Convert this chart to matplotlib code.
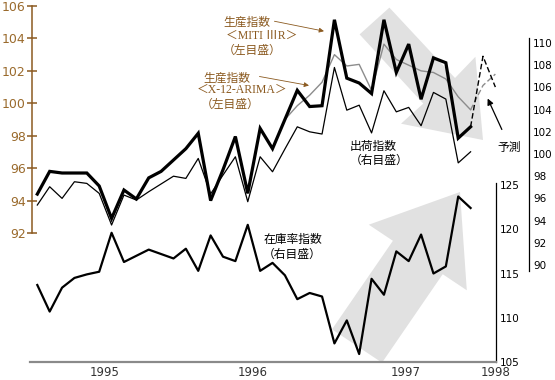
import numpy as np
import matplotlib
matplotlib.use('Agg')
import matplotlib.pyplot as plt
from matplotlib.patches import Polygon

W, H = 555, 380
X0, DX = 37.3, 12.38   # pixel x of the first month, pixels per month

months = np.arange(36)
fc_months = [35, 36, 37]

# production index, MITI IIIR (left scale)
miti = [94.4, 95.8, 95.7, 95.7, 95.7, 94.9, 92.9, 94.65, 94.1, 95.4, 95.8, 96.5,
        97.2, 98.15, 94.0, 95.9, 97.95, 94.45, 98.45, 97.2, 99.0, 100.8, 99.8, 99.85,
        105.15, 101.55, 101.25, 100.6, 105.15, 101.9, 103.65, 100.25, 102.8, 102.5, 97.85, 98.55]
miti_fc = [98.55, 102.9, 101.0]

# production index, X-12-ARIMA (left scale)
arima = [94.4, 95.8, 95.7, 95.7, 95.7, 94.9, 92.9, 94.65, 94.1, 95.4, 95.8, 96.5,
         97.2, 98.15, 94.0, 95.9, 97.95, 94.45, 98.45, 97.2, 99.0, 99.85, 100.5, 101.3,
         103.0, 102.3, 102.4, 100.8, 103.65, 102.7, 102.35, 102.0, 101.9, 101.5, 100.4, 99.6]
arima_fc = [99.6, 101.1, 101.8]

# shipments index (right scale 1)
shipments = [95.4, 97.05, 96.0, 97.5, 97.35, 96.45, 93.6, 96.3, 95.85, 96.6, 97.3, 98.0,
             97.8, 99.6, 96.4, 98.1, 99.75, 95.7, 99.75, 98.4, 100.45, 102.45, 102.0, 101.8,
             107.8, 103.95, 104.4, 101.9, 105.7, 103.8, 104.2, 102.55, 105.55, 104.95, 99.2, 100.2]

# inventory ratio index (right scale 2)
inventory = [113.7, 110.7, 113.4, 114.5, 114.9, 115.2, 119.6, 116.3, 117.0, 117.7, 117.2, 116.7,
             117.8, 115.3, 119.3, 116.9, 116.4, 120.5, 115.3, 116.2, 114.8, 112.1, 112.8, 112.4,
             107.1, 109.7, 105.9, 114.4, 112.6, 117.5, 116.4, 119.4, 115.0, 115.8, 123.7, 122.4]

years = ['1995', '1996', '1997', '1998']
year_pos = [5.41, 17.42, 29.72, 37.05]

brown = '#8B5A20'
jp = ['Noto Sans CJK JP', 'DejaVu Sans']
plt.rcParams['font.family'] = ['DejaVu Sans', 'Noto Sans CJK JP']


def frac(left, top, right, bottom):
    return [left / W, 1 - bottom / H, (right - left) / W, (bottom - top) / H]


def xl(left, right):
    return ((left - X0) / DX, (right - X0) / DX)


def fp(x, y):
    return (x / W, 1 - y / H)


fig = plt.figure(figsize=(5.55, 3.8), dpi=100)

ax_l = fig.add_axes(frac(32, 6, 496, 233))
ax_r1 = fig.add_axes(frac(32, 37.5, 529, 270.5))
ax_r2 = fig.add_axes(frac(30, 183, 496, 362))

for ax in (ax_l, ax_r1, ax_r2):
    ax.patch.set_visible(False)
    for s in ax.spines.values():
        s.set_visible(False)
    ax.set_xticks([])

# left scale
ax_l.set_xlim(*xl(32, 496))
ax_l.set_ylim(92, 106)
ax_l.spines['left'].set_visible(True)
ax_l.spines['left'].set_color(brown)
ax_l.spines['left'].set_linewidth(1.1)
ax_l.set_yticks(np.arange(92, 107, 2))
ax_l.tick_params(axis='y', direction='inout', length=7, width=1.1, color=brown,
                 labelcolor='#9a6a2c', labelsize=9, pad=1)

# shaded trend arrows
down_arrow = [(359.6, 34.4), (389.4, 7.6), (455, 78), (475.4, 56.8), (483, 140),
              (401, 123.7), (423.3, 103.6)]
up_arrow = [(332, 329.3), (382, 362.7), (442.7, 274.2), (466.8, 290.3), (460, 192),
            (368.8, 224.7), (392.9, 240.8)]
for pts in (down_arrow, up_arrow):
    ax_l.add_patch(Polygon([fp(x, y) for x, y in pts], closed=True, transform=fig.transFigure,
                           facecolor='#e1e1e1', edgecolor='none', zorder=0, clip_on=False))

ax_l.plot(months, arima, color='#8c8c8c', lw=1.0, zorder=2)
ax_l.plot(months, miti, color='black', lw=2.3, zorder=3, solid_joinstyle='miter')
ax_l.plot(fc_months, arima_fc, color='#8c8c8c', lw=1.0, ls=(0, (4, 2)), zorder=2, clip_on=False)
ax_l.plot(fc_months, miti_fc, color='black', lw=1.0, ls=(0, (4, 2)), zorder=3, clip_on=False)

# shipments scale
ax_r1.set_xlim(*xl(32, 529))
ax_r1.set_ylim(89.5, 110.5)
ax_r1.spines['right'].set_visible(True)
ax_r1.spines['right'].set_linewidth(0.9)
ax_r1.yaxis.tick_right()
ax_r1.set_yticks(np.arange(90, 111, 2))
ax_r1.tick_params(axis='y', length=0, labelsize=7.5, pad=3)
ax_r1.plot(months, shipments, color='black', lw=0.9)

# inventory scale
ax_r2.set_xlim(*xl(30, 496))
ax_r2.set_ylim(105, 125 + 2 / 8.85)
ax_r2.spines['right'].set_visible(True)
ax_r2.spines['right'].set_linewidth(0.9)
ax_r2.spines['bottom'].set_visible(True)
ax_r2.spines['bottom'].set_color('#8a8a8a')
ax_r2.spines['bottom'].set_linewidth(1.6)
ax_r2.yaxis.tick_right()
ax_r2.set_yticks(np.arange(105, 126, 5))
ax_r2.tick_params(axis='y', length=0, labelsize=7.5, pad=3)
ax_r2.plot(months, inventory, color='black', lw=1.6)

for yr, pos in zip(years, year_pos):
    ax_r2.annotate(yr, xy=(pos, 0), xycoords=('data', 'axes fraction'), xytext=(0, -11),
                   textcoords='offset pixels', ha='center', va='center', fontsize=8.5,
                   color='#333333', annotation_clip=False)

# labels
def label(x, y, s, color='black', family=jp, size=8.5):
    fig.text(*fp(x, y), s, ha='center', va='center', color=color, fontsize=size, family=family)


label(246.7, 22.7, '生産指数', brown)
label(261.7, 36, '＜MITI ⅢR＞', brown, ['Liberation Serif', 'Noto Sans CJK JP'])
label(252.5, 50.7, '（左目盛）', brown)
label(226.7, 78, '生産指数', brown)
label(241.7, 90.3, '＜X-12-ARIMA＞', brown, ['Liberation Serif', 'Noto Sans CJK JP'])
label(230, 104.3, '（左目盛）', brown)
label(373, 146.7, '出荷指数')
label(379, 160.7, '（右目盛）')
label(292.5, 240, '在庫率指数')
label(292, 254, '（右目盛）')
label(509, 147, '予測')

arrow_kw = dict(xycoords='figure pixels', textcoords='figure pixels', annotation_clip=False)
ax_l.annotate('', xy=(326.7, H - 31.7), xytext=(271.7, H - 20.7), **arrow_kw,
              arrowprops=dict(arrowstyle='-|>', color=brown, lw=0.6, mutation_scale=7))
ax_l.annotate('', xy=(311.7, H - 86), xytext=(256.7, H - 76), **arrow_kw,
              arrowprops=dict(arrowstyle='-|>', color=brown, lw=0.6, mutation_scale=7))
ax_l.annotate('', xy=(486.5, H - 96), xytext=(503, H - 132), **arrow_kw,
              arrowprops=dict(arrowstyle='-|>', color='black', lw=0.9, mutation_scale=9))

fig.savefig('out.png', dpi=100)
